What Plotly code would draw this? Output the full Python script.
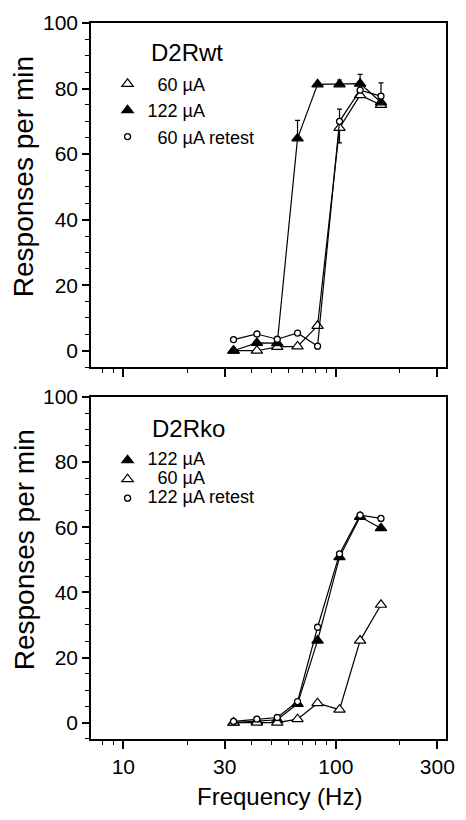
import plotly.graph_objects as go

# ---------------- data ----------------
freq = [33, 42.5, 53, 66, 82, 104, 130, 163]

wt_60 = [0, 0, 1.2, 1.3, 7.6, 68, 78, 75]
wt_60_err_minus = [None, None, None, None, None, 4.6, None, None]
wt_122 = [0, 2.4, 2.3, 64.8, 81.3, 81.3, 81.5, 75.8]
wt_122_err_plus = [None, None, None, 5.5, None, 1.3, 2.8, None]
wt_60r = [3.4, 5.1, 3.5, 5.4, 1.4, 70, 79.5, 77.7]
wt_60r_err_plus = [None, None, None, None, None, 3.7, None, 4.0]

ko_122 = [0, 0.4, 0.9, 5.8, 25.2, 50.8, 63.2, 59.7]
ko_60 = [0, 0, 0, 1.1, 6.0, 4.0, 25.2, 36.2]
ko_122r = [0.4, 1.1, 1.6, 6.5, 29.3, 51.8, 63.7, 62.7]

x_major = [10, 30, 100, 300]
x_minor = [7, 8, 9, 20, 40, 50, 60, 70, 80, 90, 200]
y_ticks = [0, 20, 40, 60, 80, 100]

FONT = "Liberation Sans, Arial, Helvetica, sans-serif"
NB = "\u00a0\u00a0"

def err(plus, minus):
    p = [v if v is not None else (0 if m is not None else None) for v, m in zip(plus, minus)]
    m = [v if v is not None else (0 if q is not None else None) for v, q in zip(minus, plus)]
    return dict(type="data", array=p, arrayminus=m, symmetric=False,
                color="black", thickness=1.2, width=2.5, visible=True)

none8 = [None] * 8

open_tri = dict(symbol="triangle-up", size=10, color="white", line=dict(color="black", width=1.2))
fill_tri = dict(symbol="triangle-up", size=10, color="black", line=dict(color="black", width=1.2))
retest = dict(symbol="circle", size=6, color="white", line=dict(color="black", width=1.3))

fig = go.Figure()

def add_series(xa, ya, y, marker, name, legend, e=None):
    fig.add_trace(go.Scatter(x=freq, y=y, mode="lines", xaxis=xa, yaxis=ya,
                             line=dict(color="black", width=1.2), showlegend=False,
                             error_y=e if e else dict(visible=False), hoverinfo="skip"))
    fig.add_trace(go.Scatter(x=freq, y=y, mode="markers", xaxis=xa, yaxis=ya,
                             marker=marker, name=name, legend=legend, showlegend=True))

# top panel (D2Rwt)
add_series("x", "y", wt_60, open_tri, NB + "60 µA", "legend", err(none8, wt_60_err_minus))
add_series("x", "y", wt_122, fill_tri, "122 µA", "legend", err(wt_122_err_plus, none8))
add_series("x", "y", wt_60r, retest, NB + "60 µA retest", "legend", err(wt_60r_err_plus, none8))

# bottom panel (D2Rko)
big = lambda s: '<span style="font-size:18px">' + s + '</span>'
add_series("x2", "y2", ko_122, fill_tri, big("122 µA"), "legend2")
add_series("x2", "y2", ko_60, open_tri, big(NB + "60 µA"), "legend2")
add_series("x2", "y2", ko_122r, retest, big("122 µA retest"), "legend2")

xcommon = dict(type="log", range=[0.848, 2.518], tickvals=x_major, ticktext=[str(v) for v in x_major],
               ticks="outside", ticklen=8, tickwidth=1.5, tickcolor="black",
               minor=dict(tickvals=x_minor, ticks="outside", ticklen=4, tickwidth=1.3, tickcolor="black"),
               showline=True, linecolor="black", linewidth=1.5, mirror=True,
               showgrid=False, zeroline=False,
               tickfont=dict(family=FONT, size=21, color="black"))
ycommon = dict(range=[-5, 100], tickvals=y_ticks, ticks="outside", ticklen=7, tickwidth=1.5,
               tickcolor="black",
               minor=dict(dtick=5, tick0=0, ticks="outside", ticklen=4, tickwidth=1.3, tickcolor="black"),
               showline=True, linecolor="black", linewidth=1.5, mirror=True,
               showgrid=False, zeroline=False,
               tickfont=dict(family=FONT, size=21, color="black"))

fig.update_layout(
    width=466, height=820,
    margin=dict(l=91, r=11, t=17, b=81),
    paper_bgcolor="white", plot_bgcolor="white",
    font=dict(family=FONT, color="black"),
    xaxis=dict(xcommon, domain=[0, 1], anchor="y", showticklabels=False),
    yaxis=dict(ycommon, domain=[0.5194, 1], anchor="x"),
    xaxis2=dict(xcommon, domain=[0, 1], anchor="y2", showticklabels=True),
    yaxis2=dict(ycommon, domain=[0, 0.4778], anchor="x2"),
    legend=dict(x=0.0467, y=0.9405, xanchor="left", yanchor="top", bgcolor="rgba(0,0,0,0)",
                font=dict(family=FONT, size=18, color="black"), traceorder="normal",
                tracegroupgap=2, itemsizing="trace"),
    legend2=dict(x=0.0467, y=0.4097, xanchor="left", yanchor="top", bgcolor="rgba(0,0,0,0)",
                 font=dict(family=FONT, size=12, color="black"), traceorder="normal",
                 tracegroupgap=0, itemsizing="trace"),
    showlegend=True,
    annotations=[
        dict(text="D2Rwt", xref="paper", yref="paper", x=0.162, y=0.9584, xanchor="left",
             yanchor="middle", showarrow=False, font=dict(family=FONT, size=24, color="black")),
        dict(text="D2Rko", xref="paper", yref="paper", x=0.165, y=0.433, xanchor="left",
             yanchor="middle", showarrow=False, font=dict(family=FONT, size=24, color="black")),
        dict(text="Responses per min", xref="paper", yref="paper", x=-0.188, y=0.785,
             xanchor="center", yanchor="middle", textangle=-90, showarrow=False,
             font=dict(family=FONT, size=28, color="black")),
        dict(text="Responses per min", xref="paper", yref="paper", x=-0.188, y=0.2639,
             xanchor="center", yanchor="middle", textangle=-90, showarrow=False,
             font=dict(family=FONT, size=28, color="black")),
        dict(text="Frequency (Hz)", xref="paper", yref="paper", x=0.530, y=-0.0803,
             xanchor="center", yanchor="middle", showarrow=False,
             font=dict(family=FONT, size=24, color="black")),
    ],
)

fig.write_html("out.html", config={"displayModeBar": False},
               post_script="document.body.style.margin='0';")
